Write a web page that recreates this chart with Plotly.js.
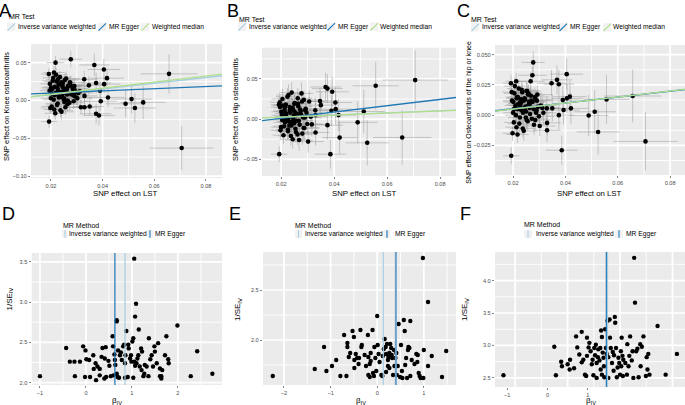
<!DOCTYPE html>
<html><head><meta charset="utf-8">
<script src="https://cdn.plot.ly/plotly-3.0.1.min.js"></script>
<style>html,body{margin:0;padding:0;background:#fff;}#chart{width:685px;height:405px;}</style>
</head><body><div id="chart"></div>
<script>
// ---------------- DATA ----------------
// SNP effect on LST (exposure), shared by panels A-C
const snpX = [
0.0706,0.0657,0.0557,0.0525,0.0512,0.0489,
0.0368,0.0405,0.0417,0.0406,0.0375,0.0329,0.0347,0.0390,0.0330,0.0393,0.0330,0.0316,0.0350,0.0375,0.0386,0.0421,
0.0193,0.0218,0.0277,0.0192,
0.0196,0.0200,0.0203,0.0205,0.0209,0.0213,0.0215,0.0218,0.0222,0.0226,
0.0228,0.0235,0.0239,0.0241,0.0244,0.0248,0.0252,0.0254,0.0261,0.0265,
0.0267,0.0274,0.0280,0.0286,0.0290,0.0293,0.0299,0.0306,0.0312,0.0198,
0.0201,0.0207,0.0211,0.0220,0.0224,0.0230,0.0233,0.0237,0.0243,0.0246,
0.0250,0.0256,0.0259,0.0263,0.0270,0.0272,0.0283,0.0288,0.0296,0.0302,
0.0195,0.0204,0.0212,0.0217,0.0226,0.0232,0.0240,0.0249,0.0258,0.0268,
0.0219,0.0231,0.0245,0.0257,0.0264,0.0275,0.0285,0.0214,0.0227,0.0238,0.0251,0.0262,0.0279,0.0291];
const snpXse = [
0.0123,0.0110,0.0087,0.0082,0.0080,0.0076,
0.0058,0.0063,0.0065,0.0063,0.0058,0.0052,0.0055,0.0061,0.0052,0.0062,0.0052,0.0050,0.0055,0.0059,0.0060,0.0066,
0.0031,0.0035,0.0044,0.0031,
0.0036,0.0038,0.0039,0.0040,0.0041,0.0042,0.0043,0.0044,0.0045,0.0046,
0.0046,0.0047,0.0048,0.0049,0.0050,0.0050,0.0051,0.0052,0.0053,0.0054,
0.0054,0.0055,0.0056,0.0057,0.0058,0.0059,0.0060,0.0061,0.0062,0.0037,
0.0038,0.0040,0.0041,0.0043,0.0044,0.0046,0.0047,0.0048,0.0049,0.0050,
0.0051,0.0052,0.0053,0.0054,0.0055,0.0056,0.0057,0.0058,0.0059,0.0060,
0.0037,0.0039,0.0041,0.0042,0.0044,0.0046,0.0048,0.0049,0.0051,0.0053,
0.0043,0.0045,0.0048,0.0050,0.0052,0.0055,0.0057,0.0042,0.0044,0.0047,0.0050,0.0052,0.0055,0.0058];
// A: SNP effect on Knee osteoarthritis
const kneeY = [
-0.063,0.0352,-0.0026,-0.010,0.0018,-0.0044,
0.047,0.041,0.0295,0.0216,0.023,0.028,0.020,0.013,0.006,-0.001,-0.009,-0.009,-0.008,-0.0176,-0.020,0.004,
-0.028,0.050,0.0546,0.035,
0.022,0.003,-0.008,0.015,0.030,-0.012,0.018,0.008,0.025,-0.004,
0.012,0.031,0.005,-0.015,0.020,0.010,-0.002,0.027,0.014,0.000,
0.019,0.024,0.009,0.016,0.006,0.013,0.004,0.010,0.012,-0.010,
0.017,0.026,0.001,0.034,-0.006,0.021,0.011,-0.013,0.007,0.023,
0.015,-0.009,0.029,0.008,0.020,-0.003,0.018,-0.001,0.011,0.003,
0.013,0.009,0.037,-0.017,0.016,0.006,0.024,0.002,0.014,0.019,
0.010,0.004,0.018,0.012,-0.005,0.021,0.015,0.007,0.028,0.011,0.003,0.016,0.008,0.019];
const kneeSE = [
0.029,0.026,0.022,0.020,0.019,0.018,
0.015,0.014,0.013,0.012,0.014,0.011,0.012,0.013,0.011,0.013,0.011,0.010,0.012,0.013,0.013,0.013,
0.008,0.009,0.011,0.008,
0.0085,0.0090,0.0075,0.0095,0.0080,0.0100,0.0088,0.0078,0.0092,0.0083,
0.0097,0.0086,0.0079,0.0105,0.0090,0.0082,0.0094,0.0087,0.0099,0.0081,
0.0093,0.0089,0.0102,0.0084,0.0096,0.0091,0.0098,0.0101,0.0106,0.0077,
0.0080,0.0088,0.0083,0.0092,0.0079,0.0095,0.0086,0.0090,0.0087,0.0094,
0.0089,0.0097,0.0091,0.0093,0.0099,0.0096,0.0100,0.0103,0.0098,0.0104,
0.0078,0.0082,0.0085,0.0087,0.0090,0.0092,0.0094,0.0088,0.0096,0.0099,
0.0086,0.0089,0.0093,0.0095,0.0097,0.0100,0.0102,0.0084,0.0088,0.0091,0.0094,0.0096,0.0099,0.0101];
// B: SNP effect on Hip osteoarthritis
const hipY = [
0.0486,-0.0228,0.0415,-0.0295,0.0095,-0.004,
0.040,0.0207,0.005,0.0124,0.038,0.011,0.0224,0.0104,-0.0166,0.034,0.005,-0.0066,0.0174,-0.0075,-0.0436,-0.023,
-0.0436,0.000,0.032,0.018,
0.015,-0.010,0.005,0.025,-0.020,0.010,-0.004,0.018,0.001,-0.015,
0.030,0.008,-0.008,0.012,-0.025,0.004,0.020,-0.012,0.006,0.016,
-0.002,0.010,-0.018,0.024,0.002,0.013,-0.006,0.022,0.003,-0.014,
0.009,0.017,-0.009,0.007,0.028,-0.003,0.011,-0.021,0.014,0.000,
0.019,-0.016,0.005,0.026,-0.007,0.012,0.002,-0.011,0.008,-0.028,
0.021,-0.001,0.010,0.004,-0.013,0.015,0.033,-0.005,0.007,-0.026,
0.003,-0.008,0.012,-0.002,0.019,0.006,-0.011,0.014,0.001,-0.004,0.009,-0.019,0.022,0.011];
const hipSE = [
0.037,0.034,0.030,0.028,0.027,0.026,
0.018,0.019,0.020,0.019,0.018,0.016,0.017,0.019,0.016,0.019,0.016,0.015,0.017,0.018,0.018,0.020,
0.010,0.011,0.014,0.010,
0.0115,0.0120,0.0102,0.0128,0.0108,0.0135,0.0119,0.0105,0.0124,0.0112,
0.0131,0.0116,0.0107,0.0142,0.0121,0.0111,0.0127,0.0117,0.0134,0.0109,
0.0126,0.0120,0.0138,0.0113,0.0130,0.0123,0.0132,0.0136,0.0143,0.0104,
0.0108,0.0119,0.0112,0.0124,0.0107,0.0128,0.0116,0.0122,0.0117,0.0127,
0.0120,0.0131,0.0123,0.0126,0.0134,0.0130,0.0135,0.0139,0.0132,0.0140,
0.0105,0.0111,0.0115,0.0117,0.0122,0.0124,0.0127,0.0119,0.0130,0.0134,
0.0116,0.0120,0.0126,0.0128,0.0131,0.0135,0.0138,0.0113,0.0119,0.0123,0.0127,0.0130,0.0134,0.0136];
// C: SNP effect on Osteoarthritis of the hip or knee
const hipKneeY = [
-0.0217,0.0158,0.013,-0.0139,0.0028,-0.0003,
0.0292,0.0339,0.0153,0.0139,0.0256,0.0056,0.0264,0.0125,-0.0125,0.0042,-0.0064,0.0019,0.0056,0.000,-0.029,0.0056,
-0.0336,0.015,0.0436,0.0264,
0.012,0.002,-0.006,0.018,0.008,-0.010,0.015,0.005,0.022,-0.002,
0.010,0.019,0.003,-0.013,0.014,0.007,-0.004,0.020,0.011,0.001,
0.028,0.033,-0.008,0.013,0.004,0.017,-0.001,0.008,0.006,-0.015,
0.011,0.024,0.000,0.014,-0.007,0.010,0.021,-0.011,0.006,0.013,
0.003,-0.005,0.018,0.009,0.012,-0.003,0.015,0.002,0.007,-0.009,
0.019,0.005,0.028,-0.016,0.010,0.004,0.012,-0.002,0.008,0.016,
0.009,0.013,0.004,0.017,0.006,0.011,-0.004,0.014,0.008,0.002,0.020,0.010,0.005,0.012];
const hipKneeSE = [
0.024,0.022,0.020,0.019,0.018,0.017,
0.012,0.013,0.013,0.012,0.012,0.010,0.011,0.012,0.010,0.012,0.010,0.010,0.011,0.012,0.012,0.013,
0.007,0.007,0.009,0.007,
0.0068,0.0072,0.0060,0.0076,0.0064,0.0080,0.0070,0.0062,0.0074,0.0066,
0.0078,0.0069,0.0063,0.0084,0.0072,0.0066,0.0075,0.0070,0.0079,0.0065,
0.0074,0.0071,0.0082,0.0067,0.0077,0.0073,0.0078,0.0081,0.0085,0.0062,
0.0064,0.0070,0.0066,0.0074,0.0063,0.0076,0.0069,0.0072,0.0070,0.0075,
0.0071,0.0078,0.0073,0.0074,0.0079,0.0077,0.0080,0.0082,0.0078,0.0083,
0.0062,0.0066,0.0068,0.0070,0.0072,0.0074,0.0075,0.0070,0.0077,0.0079,
0.0069,0.0071,0.0074,0.0076,0.0078,0.0080,0.0082,0.0067,0.0070,0.0073,0.0075,0.0077,0.0079,0.0081];

// MR estimates drawn as lines (slopes / intercepts)
const mrTests = ['Inverse variance weighted','MR Egger','Weighted median'];
const kneeFit    = {ivw:0.379, eggerInt:0.0070,  eggerSlope:0.144, wm:0.404};
const hipFit     = {ivw:0.130, eggerInt:-0.0070, eggerSlope:0.394, wm:0.126};
const hipKneeFit = {ivw:0.250, eggerInt:0.0005,  eggerSlope:0.240, wm:0.249};

// Funnel plots: beta_IV and 1/SE_IV
const betaD = [-1.00,-0.43,-0.35,-0.25,-0.13,-0.06,-0.01,-0.24,-0.02,0.09,
0.01,0.07,0.16,0.21,0.25,0.17,0.30,0.40,0.44,0.22,
0.34,0.36,0.43,0.41,0.49,0.51,0.54,0.58,0.59,0.62,
0.63,0.64,0.67,0.69,0.67,0.67,0.70,0.74,0.76,0.78,
0.81,0.83,0.85,0.86,0.88,0.91,0.92,0.93,0.96,0.98,
0.99,1.01,1.03,1.05,1.07,1.09,1.05,1.07,1.10,1.12,
1.14,1.15,1.17,1.20,1.21,1.22,1.25,1.27,1.28,1.32,
1.37,1.40,1.43,1.46,1.49,1.50,1.54,1.57,1.61,1.64,
1.66,1.72,1.75,1.79,1.80,1.99,2.28,2.42,2.75,1.61,
1.64,1.36,1.03,0.85,0.72,0.60,0.30];
const invSeD = [2.08,2.43,2.26,2.26,2.26,2.45,2.40,2.08,2.07,2.07,
2.29,2.28,2.34,2.24,2.20,2.17,2.09,2.05,2.07,2.03,
2.32,2.43,2.44,2.30,2.27,2.21,2.08,2.575,2.45,2.35,
2.28,2.22,2.11,2.07,2.775,2.76,2.40,2.34,2.375,2.28,
2.45,2.47,2.24,2.34,2.64,2.07,2.47,2.425,2.30,2.34,
2.26,2.51,2.55,3.54,2.82,2.98,2.26,2.21,2.24,2.30,
2.34,2.66,2.20,2.425,2.155,2.385,2.08,2.11,2.22,2.20,
2.55,2.29,2.34,2.20,2.45,2.385,2.24,2.49,2.175,2.08,
2.155,2.34,2.575,2.29,2.24,2.71,2.08,2.39,2.11,2.08,
2.05,2.08,2.06,2.06,2.06,2.09,2.17];
const betaE = [-2.24,-1.34,-1.14,-1.09,-0.97,-0.88,-0.79,-0.71,-0.66,-0.64,
-0.64,-0.61,-0.58,-0.53,-0.50,-0.49,-0.49,-0.46,-0.43,-0.40,
-0.39,-0.36,-0.34,-0.33,-0.27,-0.20,-0.19,-0.19,-0.16,-0.16,
-0.14,-0.14,-0.10,-0.09,-0.06,-0.04,0.00,0.01,0.03,0.05,
0.09,0.11,0.12,0.14,0.16,0.18,0.19,0.21,0.23,0.23,
0.24,0.26,0.28,0.30,0.31,0.32,0.34,0.36,0.37,0.39,
0.41,0.42,0.46,0.49,0.51,0.53,0.54,0.57,0.59,0.60,
0.62,0.64,0.66,0.67,0.69,0.71,0.71,0.74,0.80,0.84,
0.86,0.87,0.89,0.91,0.93,0.98,0.99,1.00,1.09,1.09,
1.17,1.39,1.48,0.44,0.26,0.19,-0.02,-0.07,-0.24];
const invSeE = [1.64,1.71,1.93,1.69,1.74,1.80,1.64,2.05,1.64,1.93,
1.97,1.83,1.87,2.09,2.03,1.72,1.80,1.86,1.82,1.76,
1.82,2.10,1.93,1.95,1.85,2.05,1.83,1.65,1.63,1.76,
1.87,1.79,2.10,1.67,1.93,1.82,2.24,1.95,1.86,1.78,
1.65,1.64,1.84,1.91,2.01,1.93,1.86,1.96,1.80,1.74,
1.83,1.87,1.96,1.92,1.85,1.82,1.65,1.90,1.74,1.82,
1.87,1.65,2.16,1.63,1.95,1.69,1.62,2.20,2.09,1.75,
1.82,1.62,1.90,1.93,1.92,2.19,1.64,1.80,1.76,1.86,
1.78,1.85,1.67,1.64,1.62,2.82,1.62,1.90,2.38,1.74,
1.84,1.63,1.89,1.74,1.72,1.68,1.69,1.64,1.74];
const betaF = [-1.09,0.17,0.21,0.34,0.36,0.50,0.55,0.56,0.66,0.71,
0.74,0.79,0.85,0.85,0.89,0.93,0.96,0.98,1.02,1.04,
1.07,1.10,1.12,1.14,1.16,1.18,1.20,1.22,1.25,1.26,
1.29,1.31,1.32,1.33,1.35,1.35,1.37,1.39,1.40,1.41,
1.43,1.45,1.47,1.49,1.51,1.54,1.55,1.57,1.60,1.62,
1.64,1.65,1.67,1.68,1.70,1.72,1.74,1.76,1.78,1.80,
1.82,1.83,1.84,1.86,1.87,1.88,1.93,1.97,2.01,2.03,
2.05,2.09,2.11,2.13,2.15,2.17,2.20,2.23,2.26,2.30,
2.31,2.34,2.38,2.44,2.46,2.48,2.50,2.53,2.73,2.93,
3.21,0.98,1.22,1.51,1.98];
const invSeF = [2.54,2.98,2.54,2.75,2.68,2.71,2.63,2.78,2.65,3.14,
2.97,2.86,3.21,2.74,2.78,2.55,2.53,2.84,2.97,3.04,
2.91,2.71,2.78,2.54,2.96,2.85,3.01,2.73,2.82,2.94,
2.77,2.96,2.63,3.23,2.55,3.13,2.89,2.81,2.68,2.51,
3.25,2.96,2.87,3.38,2.82,3.40,3.12,2.96,2.73,2.90,
2.61,2.85,3.44,3.35,2.96,2.51,2.66,2.81,2.73,2.55,
2.91,2.68,3.12,2.84,2.53,2.78,2.73,2.55,2.68,2.84,
3.14,2.77,2.91,2.50,4.35,3.66,2.91,2.95,2.51,3.02,
2.68,2.98,3.14,2.53,2.82,2.63,2.87,2.55,3.30,2.55,
2.87,3.12,2.50,2.50,3.02];
const mrMethods = ['Inverse variance weighted','MR Egger'];
const funnelD = {ivw:0.85, egger:0.63};
const funnelE = {ivw:0.13, egger:0.40};
const funnelF = {ivw:1.49, egger:1.46};
const xTicksF = [-1, 0, 1];
const xGridF = [-0.80, -0.15, 0.50, 1.15, 1.80, 2.45, 3.10];

// ---------------- STYLE / LAYOUT ----------------
const W = 685, H = 405;
const FONT = '"Liberation Sans", Arial, Helvetica, sans-serif';
const LETTER_FONT = '"Liberation Sans Narrow", "Liberation Sans", Arial, sans-serif';
const px = v => v / W;
const py = v => 1 - v / H;
const C_IVW = '#A6CEE3', C_EGG = '#1F78B4', C_WM = '#B2DF8A';
const ERR = 'rgba(150,150,150,0.55)';
const PANEL_BG = '#EBEBEB';
const GRID_MAJOR = 1.7, GRID_MINOR = 0.9;

// data ranges and panel boxes (pixels: left, right, top, bottom)
const R = {
  A: {x:[0.0123,0.0862], y:[-0.1026,0.0747], box:[31,222,44,178]},
  B: {x:[0.0128,0.0860], y:[-0.0708,0.0889], box:[262,456,47.7,176]},
  C: {x:[0.0131,0.0857], y:[-0.0495,0.0580], box:[495,685,45,175]},
  D: {x:[-1.18,2.96], y:[1.97,3.61], box:[31.7,222,253,385]},
  E: {x:[-2.45,1.69], y:[1.55,2.88], box:[263,456,252,385]},
  F: {x:[-1.30,3.41], y:[2.36,4.44], box:[495,685,252,387]}
};

function scatterPanel(n, yv, yse, fit, rng) {
  const xa = 'x' + (n === 1 ? '' : n), ya = 'y' + (n === 1 ? '' : n);
  return [
    {type:'scatter', mode:'markers', x:snpX, y:yv, xaxis:xa, yaxis:ya,
     error_x:{type:'data', array:snpXse, color:ERR, thickness:0.9, width:0},
     error_y:{type:'data', array:yse, color:ERR, thickness:0.9, width:0},
     marker:{color:'#000', size:4.6}, showlegend:false, hoverinfo:'skip'},
    {type:'scatter', mode:'lines', name:mrTests[0], x:rng.x, y:rng.x.map(v => fit.ivw * v), xaxis:xa, yaxis:ya,
     line:{color:C_IVW, width:1.3}, showlegend:false, hoverinfo:'skip'},
    {type:'scatter', mode:'lines', name:mrTests[1], x:rng.x, y:rng.x.map(v => fit.eggerInt + fit.eggerSlope * v), xaxis:xa, yaxis:ya,
     line:{color:C_EGG, width:1.3}, showlegend:false, hoverinfo:'skip'},
    {type:'scatter', mode:'lines', name:mrTests[2], x:rng.x, y:rng.x.map(v => fit.wm * v), xaxis:xa, yaxis:ya,
     line:{color:C_WM, width:1.3}, showlegend:false, hoverinfo:'skip'}
  ];
}
function funnelPanel(n, bx, iy, est, rng, eggStyle) {
  const xa = 'x' + n, ya = 'y' + n;
  return [
    {type:'scatter', mode:'markers', x:bx, y:iy, xaxis:xa, yaxis:ya,
     marker:{color:'#000', size:4.4}, showlegend:false, hoverinfo:'skip'},
    {type:'scatter', mode:'lines', name:mrMethods[0], x:[est.ivw, est.ivw], y:rng.y, xaxis:xa, yaxis:ya,
     line:{color:C_IVW, width:1.2}, showlegend:false, hoverinfo:'skip'},
    {type:'scatter', mode:'lines', name:mrMethods[1], x:[est.egger, est.egger], y:rng.y, xaxis:xa, yaxis:ya,
     line:eggStyle, showlegend:false, hoverinfo:'skip'}
  ];
}

const data = [].concat(
  scatterPanel(1, kneeY, kneeSE, kneeFit, R.A),
  scatterPanel(2, hipY, hipSE, hipFit, R.B),
  scatterPanel(3, hipKneeY, hipKneeSE, hipKneeFit, R.C),
  funnelPanel(4, betaD, invSeD, funnelD, R.D, {color:C_EGG, width:1.2}),
  funnelPanel(5, betaE, invSeE, funnelE, R.E, {color:'#6A9FCC', width:2}),
  funnelPanel(6, betaF, invSeF, funnelF, R.F, {color:C_EGG, width:1.2})
);

const tickfont = {family:FONT, size:5.6, color:'#4D4D4D'};
function ax(extra) {
  return Object.assign({showline:false, zeroline:false, showgrid:false,
    ticks:'outside', ticklen:2.2, tickwidth:0.6, tickcolor:'#333333', tickfont:tickfont,
    fixedrange:true}, extra);
}
const dx = b => [px(b[0]), Math.min(1, px(b[1]))];
const dy = b => [py(b[3]), py(b[2])];

const layout = {
  width:W, height:H, margin:{l:0,r:0,t:0,b:0}, paper_bgcolor:'#FFFFFF', plot_bgcolor:'rgba(0,0,0,0)',
  showlegend:false,
  xaxis: ax({domain:dx(R.A.box), range:R.A.x, anchor:'y', tick0:0, dtick:0.02, tickformat:'.2f'}),
  yaxis: ax({domain:dy(R.A.box), range:R.A.y, anchor:'x', tick0:0, dtick:0.05, tickformat:'.2f'}),
  xaxis2: ax({domain:dx(R.B.box), range:R.B.x, anchor:'y2', tick0:0, dtick:0.02, tickformat:'.2f'}),
  yaxis2: ax({domain:dy(R.B.box), range:R.B.y, anchor:'x2', tick0:0, dtick:0.05, tickformat:'.2f'}),
  xaxis3: ax({domain:dx(R.C.box), range:R.C.x, anchor:'y3', tick0:0, dtick:0.02, tickformat:'.2f'}),
  yaxis3: ax({domain:dy(R.C.box), range:R.C.y, anchor:'x3', tick0:0, dtick:0.025, tickformat:'.3f'}),
  xaxis4: ax({domain:dx(R.D.box), range:R.D.x, anchor:'y4', tick0:0, dtick:1}),
  yaxis4: ax({domain:dy(R.D.box), range:R.D.y, anchor:'x4', tick0:0, dtick:0.5, tickformat:'.1f'}),
  xaxis5: ax({domain:dx(R.E.box), range:R.E.x, anchor:'y5', tick0:0, dtick:1}),
  yaxis5: ax({domain:dy(R.E.box), range:R.E.y, anchor:'x5', tick0:0, dtick:0.5, tickformat:'.1f'}),
  xaxis6: ax({domain:dx(R.F.box), range:R.F.x, anchor:'y6', tickmode:'array', tickvals:xTicksF}),
  yaxis6: ax({domain:dy(R.F.box), range:R.F.y, anchor:'x6', tick0:0, dtick:0.5, tickformat:'.1f'}),
  annotations:[], shapes:[]
};

// ---- panel background + grid, drawn in the lowest shape layer (under the marks) ----
function stepVals(range, step) {
  const out = [];
  for (let k = Math.ceil(range[0] / step - 1e-9); k * step <= range[1] + 1e-12; k++) out.push(k * step);
  return out;
}
const isMajor = (v, step) => Math.abs(v / step - Math.round(v / step)) < 1e-6;
function panelBackground(n, rng, xMajor, yMajor, xList) {
  const s = n === 1 ? '' : String(n);
  const b = rng.box;
  const xD = dx(b), yD = dy(b);
  layout.shapes.push({type:'rect', xref:'paper', yref:'paper', x0:xD[0], x1:xD[1], y0:yD[0], y1:yD[1],
    fillcolor:PANEL_BG, line:{width:0}, layer:'below'});
  const vLine = (v, w) => layout.shapes.push({type:'line', xref:'x' + s, yref:'paper', x0:v, x1:v, y0:yD[0], y1:yD[1],
    line:{color:'#FFFFFF', width:w}, layer:'below'});
  const hLine = (v, w) => layout.shapes.push({type:'line', xref:'paper', yref:'y' + s, x0:xD[0], x1:xD[1], y0:v, y1:v,
    line:{color:'#FFFFFF', width:w}, layer:'below'});
  if (xList) xList.forEach((v, i) => vLine(v, i % 2 === 0 ? GRID_MAJOR : GRID_MINOR));
  else stepVals(rng.x, xMajor / 2).forEach(v => vLine(v, isMajor(v, xMajor) ? GRID_MAJOR : GRID_MINOR));
  stepVals(rng.y, yMajor / 2).forEach(v => hLine(v, isMajor(v, yMajor) ? GRID_MAJOR : GRID_MINOR));
}
panelBackground(1, R.A, 0.02, 0.05);
panelBackground(2, R.B, 0.02, 0.05);
panelBackground(3, R.C, 0.02, 0.025);
panelBackground(4, R.D, 1, 0.5);
panelBackground(5, R.E, 1, 0.5);
panelBackground(6, R.F, 1, 0.5, xGridF);

function ann(text, x, y, size, extra, family) {
  layout.annotations.push(Object.assign({text:text, x:px(x), y:py(y), xref:'paper', yref:'paper', showarrow:false,
    xanchor:'center', yanchor:'middle', borderpad:0, borderwidth:0,
    font:{family:family || FONT, size:size, color:'#000000'}}, extra || {}));
}
function rect(x0, y0, x1, y1, fill) {
  layout.shapes.push({type:'rect', xref:'paper', yref:'paper', x0:px(x0), x1:px(x1), y0:py(y1), y1:py(y0),
    fillcolor:fill, line:{width:0}, layer:'above'});
}
function seg(x0, y0, x1, y1, color, w) {
  layout.shapes.push({type:'line', xref:'paper', yref:'paper', x0:px(x0), x1:px(x1), y0:py(y0), y1:py(y1),
    line:{color:color, width:w}, layer:'above'});
}

// panel letters
ann('A', -1, 11.5, 18, {xanchor:'left'}, LETTER_FONT);
ann('B', 227, 11.5, 18, {xanchor:'left'}, LETTER_FONT);
ann('C', 457, 11.5, 18, {xanchor:'left'}, LETTER_FONT);
ann('D', 1.5, 213.5, 18, {xanchor:'left'}, LETTER_FONT);
ann('E', 229, 213.5, 18, {xanchor:'left'}, LETTER_FONT);
ann('F', 460, 213.5, 18, {xanchor:'left'}, LETTER_FONT);

// scatter legends
const LEG = 6.7;
function testLegend(tx, ty, rowY, keys, texts) {
  ann('MR Test', tx, ty, 7, {xanchor:'left'});
  const cols = [C_IVW, C_EGG, C_WM];
  for (let i = 0; i < 3; i++) {
    rect(keys[i], rowY - 4.2, keys[i] + 8.5, rowY + 4.2, '#F2F2F2');
    seg(keys[i] + 0.5, rowY + 3.7, keys[i] + 8, rowY - 3.7, cols[i], 1.1);
    ann(mrTests[i], texts[i], rowY, LEG, {xanchor:'left'});
  }
}
testLegend(8.5, 16, 27, [7, 98, 141], [18, 109, 152]);
testLegend(238.5, 19.7, 26.8, [238, 327, 370], [248.5, 338, 380]);
testLegend(471, 19.3, 27.3, [471, 559, 603], [482, 570, 613]);

// funnel legends
function methodLegend(tx, ty, rowY, keys, texts, kw, eggCol, eggW) {
  ann('MR Method', tx, ty, 7, {xanchor:'left'});
  const cols = [C_IVW, eggCol], ws = [1.1, eggW];
  for (let i = 0; i < 2; i++) {
    rect(keys[i], rowY - 4, keys[i] + kw, rowY + 4, '#F2F2F2');
    seg(keys[i] + kw / 2, rowY - 3.8, keys[i] + kw / 2, rowY + 3.8, cols[i], ws[i]);
    ann(mrMethods[i], texts[i], rowY, LEG, {xanchor:'left'});
  }
}
methodLegend(62.5, 225, 234, [62, 147], [69, 154.5], 6, C_EGG, 1.1);
methodLegend(294.5, 225, 234, [295, 383.5], [304.5, 394.5], 7, '#6A9FCC', 1.8);
methodLegend(524, 224.5, 234, [524, 615], [536, 626], 8, C_EGG, 1.1);

// axis titles
const AT = 7.4;
ann('SNP effect on LST', 126, 194, 7.8);
ann('SNP effect on LST', 364.7, 194, 7.8);
ann('SNP effect on LST', 589, 193.5, 7.8);
ann('SNP effect on Knee osteoarthritis', 7, 107, AT, {textangle:-90});
ann('SNP effect on Hip osteoarthritis', 235, 110, AT, {textangle:-90});
ann('SNP effect on Osteoarthritis of the hip or knee', 468.7, 112, 7.0, {textangle:-90});
ann('β<sub>IV</sub>', 117, 400.5, 8);
ann('β<sub>IV</sub>', 361, 400.5, 8);
ann('β<sub>IV</sub>', 591, 400.5, 8);
ann('1/SE<sub>IV</sub>', 9.5, 299, 8, {textangle:-90});
ann('1/SE<sub>IV</sub>', 238, 310, 8, {textangle:-90});
ann('1/SE<sub>IV</sub>', 464.5, 309.5, 8, {textangle:-90});

Plotly.newPlot('chart', data, layout, {staticPlot:true, displayModeBar:false});
</script></body></html>
